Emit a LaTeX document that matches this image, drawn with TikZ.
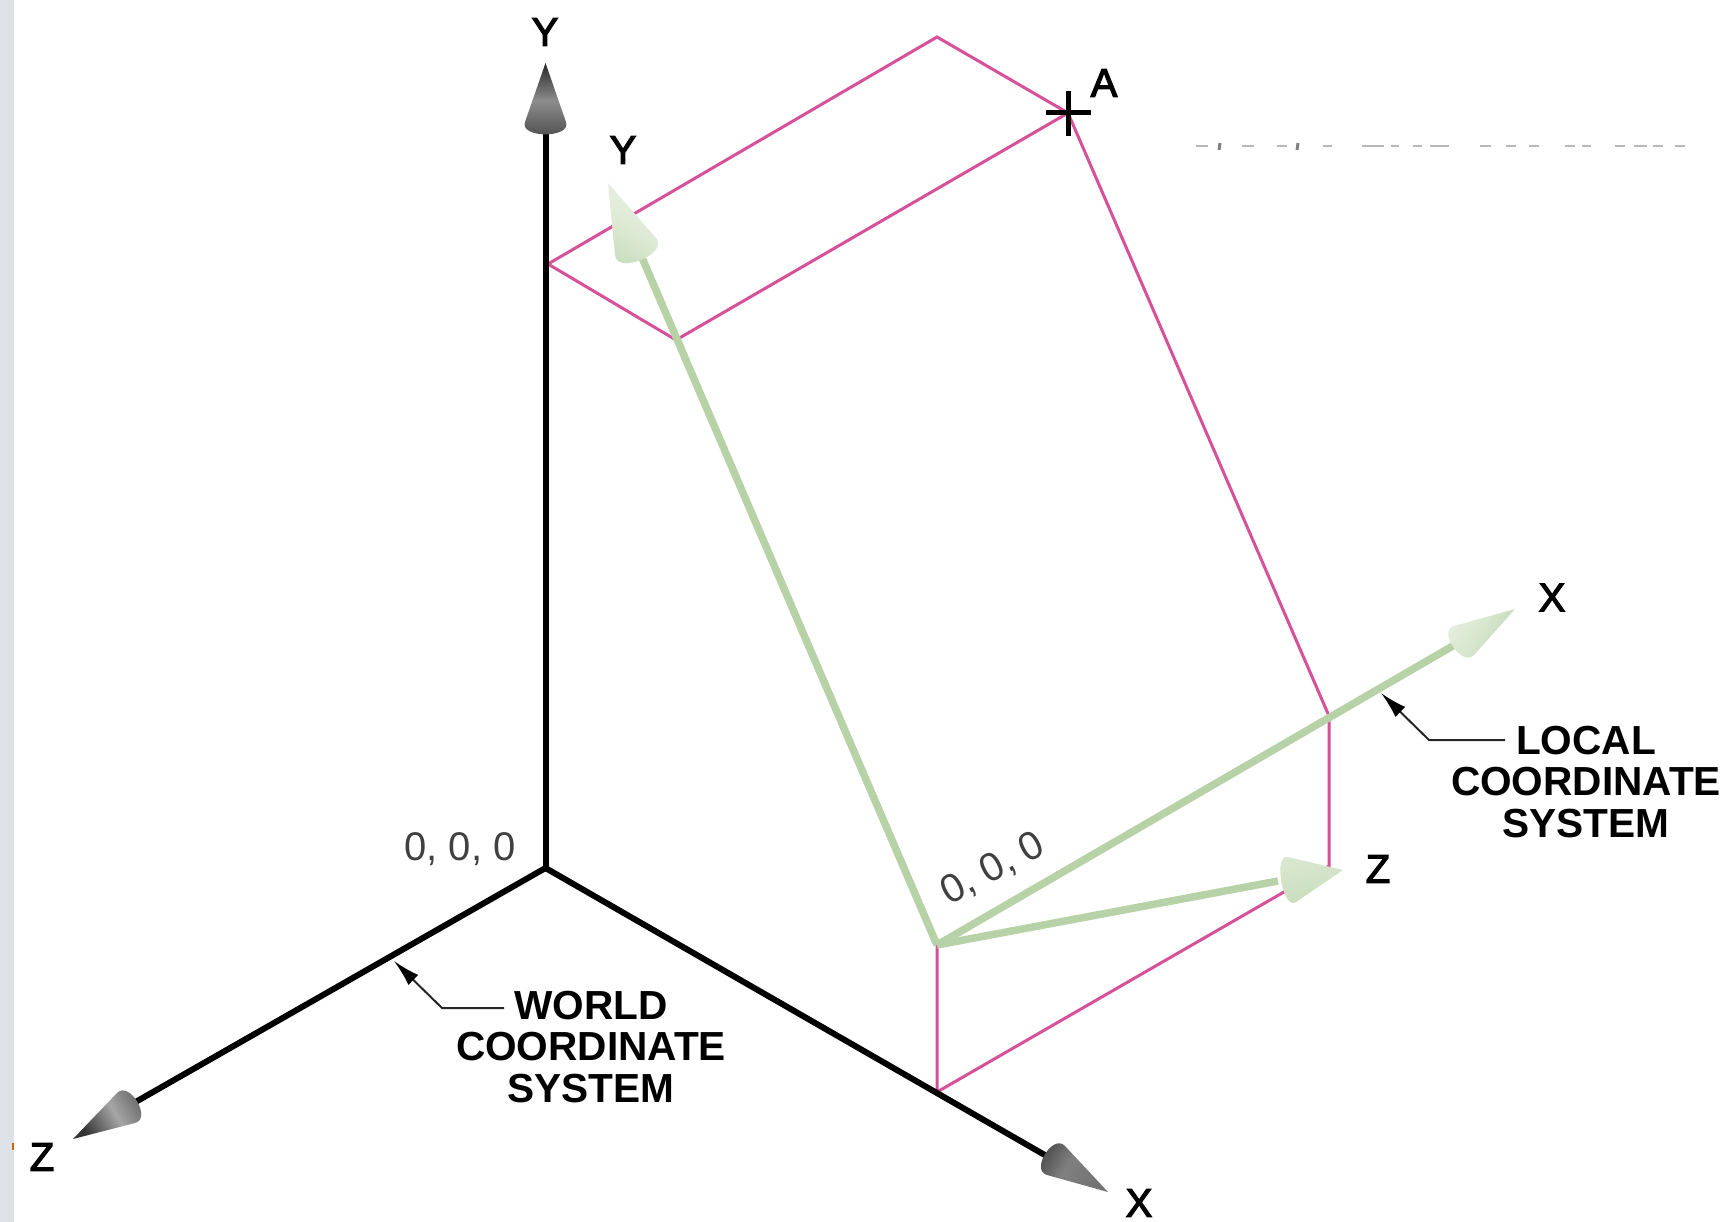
\documentclass[tikz,border=0pt]{standalone}
\usepackage{fontspec}
\setmainfont{Liberation Sans}
\newfontfamily\heavyfont[FakeBold=3]{Liberation Sans}
\usetikzlibrary{calc,arrows.meta}
\definecolor{pinkline}{HTML}{D6509A}
\definecolor{greenline}{HTML}{B7D2A6}
\definecolor{stripc}{HTML}{DDE2E8}
\tikzset{
  pinkedge/.style={draw=pinkline,line width=3pt,line cap=round,line join=miter},
  worldaxis/.style={draw=black,line width=6pt},
  localaxis/.style={draw=greenline,line width=7.5pt},
  leader/.style={draw=black!85,line width=2pt,-{Latex[length=27pt,width=14pt,black]}},
  lab/.style={font=\heavyfont\fontsize{40}{40}\selectfont,inner sep=0pt,text=black},
  labbold/.style={font=\bfseries\fontsize{40.6}{41.6}\selectfont,inner sep=0pt,text=black,align=center},
  coord/.style={font=\fontsize{40}{40}\selectfont,inner sep=0pt,text=black!75},
  remnant/.style={draw=black!28,line width=1.6pt},
}
% cone: tip, base corner 1, base corner 2, shading angle, edge colour, middle colour, edge colour
\newcommand{\conehead}[7]{%
  \shade[left color=#5,right color=#7,middle color=#6,shading angle=#4]
    (#1) -- (#2) .. controls ($(#1)!1.28!(#2)$) and ($(#1)!1.28!(#3)$) .. (#3) -- cycle;}
\begin{document}
\begin{tikzpicture}[x=1pt,y=-1pt]
\useasboundingbox (0,0) rectangle (1728,1222);
\fill[white] (0,0) rectangle (1728,1222);
\fill[stripc] (0,0) rectangle (14,1222);
\fill[orange!80!black] (12,1143) rectangle (14,1150);
% world
\coordinate (wo) at (545.5,868);
\coordinate (wyt) at (545.5,63);
\coordinate (wye) at (545.5,130);
\coordinate (wya) at (525,122);
\coordinate (wyb) at (566,122);
\coordinate (wzt) at (73,1139);
\coordinate (wze) at (132,1104);
\coordinate (wza) at (117,1093);
\coordinate (wzb) at (135,1123);
\coordinate (wxt) at (1108,1192);
\coordinate (wxe) at (1050,1158);
\coordinate (wxa) at (1065,1146);
\coordinate (wxb) at (1047,1175);
% local
\coordinate (lo) at (937,945);
\coordinate (lyt) at (608,183);
\coordinate (lye) at (640,253);
\coordinate (lya) at (656,238);
\coordinate (lyb) at (615,255);
\coordinate (lxt) at (1515,609);
\coordinate (lxe) at (1463,640);
\coordinate (lxa) at (1454,626);
\coordinate (lxb) at (1474,655);
\coordinate (lzt) at (1343,870);
\coordinate (lze) at (1278,881);
\coordinate (lza) at (1288,857);
\coordinate (lzb) at (1296,902);
% pink box
\coordinate (pa) at (548,264);
\coordinate (pb) at (937,37);
\coordinate (pA) at (1068,113);
\coordinate (pc) at (676,340);
\coordinate (pd) at (1329,716);
\coordinate (pe) at (1329,866);
\coordinate (pf) at (937,1092);
\draw[pinkedge] (pa) -- (pb) -- (pA) -- (pc) -- (pa);
\draw[pinkedge] (pA) -- (pd) -- (pe) -- (pf) -- (lo);
% axes
\draw[worldaxis] (wye) -- (wo);
\draw[worldaxis] (wo) -- (wze);
\draw[worldaxis] (wo) -- (wxe);
\draw[localaxis] (lo) -- (lye);
\draw[localaxis] (lo) -- (lxe);
\draw[localaxis] (lo) -- (lze);
% cones
\conehead{wyt}{wya}{wyb}{0}{black!85}{black!45}{black!70}
\conehead{wzt}{wza}{wzb}{-60}{black!65}{black!35}{black!80}
\conehead{wxt}{wxa}{wxb}{60}{black!75}{black!50}{black!55}
\conehead{lyt}{lya}{lyb}{-30}{greenline!30!white}{greenline!45!white}{greenline!75!white}
\conehead{lxt}{lxa}{lxb}{60}{greenline!35!white}{greenline!55!white}{greenline!90!white}
\conehead{lzt}{lza}{lzb}{10}{greenline!50!white}{greenline!65!white}{greenline!80!white}
% point A
\coordinate (ch1) at (1046,113);
\coordinate (ch2) at (1091,113);
\coordinate (cv1) at (1068,91);
\coordinate (cv2) at (1068,136);
\draw[black,line width=5pt] (ch1) -- (ch2);
\draw[black,line width=5pt] (cv1) -- (cv2);
% cut-off remains of erased text
\foreach \a/\b in {1196/1208,1242/1254,1277/1287,1323/1332,1362/1384,1391/1399,1413/1422,1430/1449,1480/1491,1506/1516,1529/1539,1565/1575,1582/1591,1615/1625,1634/1647,1653/1663,1675/1685}
  \draw[remnant] (\a,146) -- (\b,146);
\draw[black!50,line width=3pt] (1220,143) -- (1219,150);
\draw[black!50,line width=3pt] (1298,143) -- (1297,150);
% labels
\node[lab] (ly1) at (545,32) {Y};
\node[lab] (ly2) at (623,150) {Y};
\node[lab] (la) at (1104,83) {A};
\node[lab] (lx1) at (1552,597.5) {X};
\node[lab] (lz1) at (1378,869) {Z};
\node[lab] (lx2) at (1139,1203) {X};
\node[lab] (lz2) at (42,1157) {Z};
\node[coord] (c1) at (460,849) {0, 0, 0};
\node[coord,rotate=28] (c2) at (993,869) {0, 0, 0};
\node[labbold] (wlab) at (591,1047) {WORLD\\COORDINATE\\SYSTEM};
\node[labbold] (llab) at (1586,782) {LOCAL\\COORDINATE\\SYSTEM};
% leaders
\coordinate (wl1) at (504,1008);
\coordinate (wl2) at (442,1008);
\coordinate (wl3) at (394,961);
\coordinate (ll1) at (1505,740);
\coordinate (ll2) at (1429,740);
\coordinate (ll3) at (1381,693);
\draw[leader] (wl1) -- (wl2) -- (wl3);
\draw[leader] (ll1) -- (ll2) -- (ll3);
\end{tikzpicture}
\end{document}
